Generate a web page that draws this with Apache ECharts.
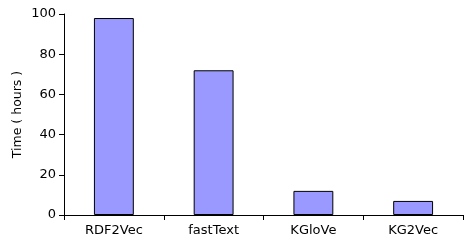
<!DOCTYPE html>
<html>
<head>
<meta charset="utf-8">
<script src="https://cdn.jsdelivr.net/npm/echarts@6/dist/echarts.min.js"></script>
<style>
  html, body { margin: 0; padding: 0; background: #fff; }
  #chart { width: 466px; height: 241px; }
</style>
</head>
<body>
<div id="chart"></div>
<script>
// 数据
const categories = ['RDF2Vec', 'fastText', 'KGloVe', 'KG2Vec']
const timeHours = [98, 72, 12, 7]
const yTicks = [0, 20, 40, 60, 80, 100]

const chart = echarts.init(document.getElementById('chart'))

const font = 'DejaVu Sans'

chart.setOption({
  animation: false,
  grid: { left: 64, right: 3, top: 14, bottom: 26 },
  xAxis: {
    type: 'category',
    data: categories,
    axisLine: { lineStyle: { color: '#000', width: 1 } },
    axisTick: { show: true, inside: false, length: 5, lineStyle: { color: '#000' } },
    axisLabel: { color: '#000', fontFamily: font, fontSize: 13, margin: 9 },
    splitLine: { show: false }
  },
  yAxis: {
    type: 'value',
    min: yTicks[0],
    max: yTicks[yTicks.length - 1],
    interval: 20,
    name: 'Time ( hours )',
    nameLocation: 'middle',
    nameGap: 40,
    nameMoveOverlap: false,
    nameTextStyle: { color: '#000', fontFamily: font, fontSize: 12.5 },
    axisLine: { show: true, lineStyle: { color: '#000', width: 1 } },
    axisTick: { show: true, length: 5, lineStyle: { color: '#000' } },
    axisLabel: { color: '#000', fontFamily: font, fontSize: 13, margin: 8 },
    splitLine: { show: false }
  },
  series: [
    {
      type: 'bar',
      data: timeHours,
      barWidth: '40%',
      itemStyle: { color: '#9999ff', borderColor: '#000', borderWidth: 1 }
    }
  ]
})
</script>
</body>
</html>
